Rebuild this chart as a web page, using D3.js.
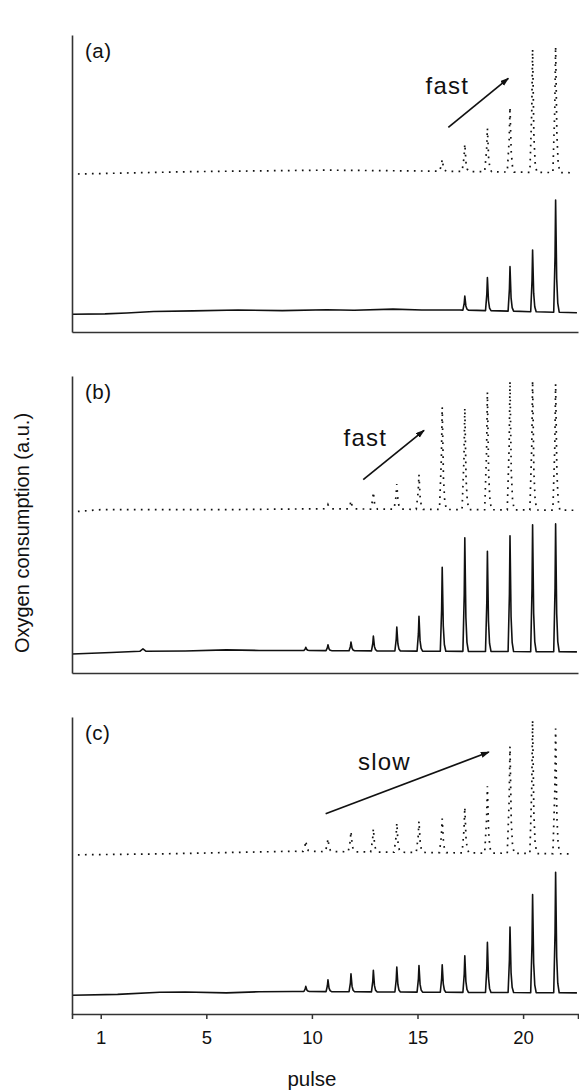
<!DOCTYPE html>
<html>
<head>
<meta charset="utf-8">
<script src="https://cdnjs.cloudflare.com/ajax/libs/d3/7.8.5/d3.min.js"></script>
<style>
  body { margin: 0; background: #fff; }
  svg { display: block; font-family: "Liberation Sans", Arial, sans-serif; }
</style>
</head>
<body>
<svg id="chart" width="579" height="1090"></svg>
<script>
// x in pulse units; the first tick sits at 0 but reads "1"
const xDomain = [-1.36, 22.6];
const xTickValues = [0, 5, 10, 15, 20];
const xTickLabels = ["1", "5", "10", "15", "20"];
const pulseT = [9.71, 10.76, 11.85, 12.91, 14.02, 15.07, 16.17, 17.24, 18.31, 19.38, 20.45, 21.54];

// peak tops (a.u., 0-100 per panel), null = no peak at that pulse
const aSolidPeaks = [null, null, null, null, null, null, null, 12.1, 18.3, 22.0, 27.6, 44.4];
const aDotPeaks   = [null, null, null, null, null, null, 58.1, 63.3, 68.6, 75.7, 95.2, 96.1];
const bSolidPeaks = [8.65, 9.5, 10.4, 12.4, 15.5, 19.1, 35.6, 45.5, 41.0, 46.2, 49.9, 50.2];
const bDotPeaks   = [null, 56.7, 58.0, 60.9, 63.6, 66.8, 89.5, 89.2, 94.6, 98.2, 98.4, 97.3];
const cSolidPeaks = [9.3, 11.5, 13.5, 14.7, 15.8, 16.3, 16.6, 19.6, 24.1, 29.3, 40.2, 47.7];
const cDotPeaks   = [58.3, 59.0, 61.5, 62.4, 64.3, 64.9, 65.8, 69.6, 76.7, 90.1, 98.9, 96.1];

// baselines [t, value]
const aSolidBase = [[-1.36, 6.0], [0.2, 6.1], [1.23, 6.4], [2.5, 6.9], [4.37, 7.1], [6.5, 7.4], [8.6, 7.2], [10.7, 7.5], [12.0, 7.3], [13.84, 7.7], [15.2, 7.4], [17.0, 7.4], [22.55, 6.5]];
const aDotBase   = [[-1.08, 53.2], [4.37, 54.0], [10.7, 54.5], [15.4, 54.2], [22.4, 53.6]];
const bSolidBase = [[-1.36, 6.4], [0.5, 6.9], [1.85, 7.3], [2.0, 8.1], [2.15, 7.3], [4.0, 7.4], [5.95, 7.8], [7.5, 7.6], [9.1, 7.6], [22.55, 7.1]];
const bDotBase   = [[-1.08, 54.4], [0, 55.0], [5.95, 55.0], [10.5, 55.3], [22.4, 54.8]];
const cSolidBase = [[-1.36, 6.3], [0.8, 6.6], [2.8, 7.3], [4.0, 7.4], [5.95, 7.1], [7.5, 7.5], [9.1, 7.6], [22.55, 7.1]];
const cDotBase   = [[-1.08, 53.6], [2.8, 53.9], [9.1, 54.8], [22.4, 53.9]];

const panelLabels = ["(a)", "(b)", "(c)"];
const noteTexts = ["fast", "fast", "slow"];
const notePos = [[15.38, 80.1], [11.50, 76.4], [12.18, 82.3]];
const arrows = [[[16.46, 68.9], [19.30, 85.4]], [[12.43, 65.1], [15.31, 81.7]], [[10.65, 67.4], [18.38, 88.2]]];

const panels = [
  {solid: aSolidPeaks, dot: aDotPeaks, sBase: aSolidBase, dBase: aDotBase},
  {solid: bSolidPeaks, dot: bDotPeaks, sBase: bSolidBase, dBase: bDotBase},
  {solid: cSolidPeaks, dot: cDotPeaks, sBase: cSolidBase, dBase: cDotBase}
];

const svg = d3.select('#chart');
const left = 72, right = 578, panelH = 297;
const tops = [35, 376, 717];

const x = d3.scaleLinear().domain(xDomain).range([left, right]);

svg.append('defs').append('marker')
  .attr('id', 'arrowHead')
  .attr('markerUnits', 'userSpaceOnUse')
  .attr('markerWidth', 9).attr('markerHeight', 7)
  .attr('refX', 8).attr('refY', 3)
  .attr('orient', 'auto')
  .append('path').attr('d', 'M0,0 L9,3 L0,6 z').attr('fill', '#111');

function tracePoints(base, peaks, wl, wr) {
  let baseAt = d3.scaleLinear().domain(base.map(d => d[0])).range(base.map(d => d[1]));
  let pts = base.slice();
  peaks.forEach((v, i) => {
    if (v == null) return;
    let t = pulseT[i], b = baseAt(t);
    pts.push([t - wl, b], [t - wl * 0.3, b + (v - b) * 0.5], [t, v], [t + wr * 0.3, b + (v - b) * 0.3], [t + wr * 0.6, b + (v - b) * 0.08], [t + wr, b]);
  });
  return pts.sort((p, q) => p[0] - q[0]);
}

panels.forEach((p, i) => {
  let top = tops[i];
  let y = d3.scaleLinear().domain([0, 100]).range([top + panelH, top]);
  let g = svg.append('g');
  let line = d3.line().x(d => x(d[0])).y(d => y(d[1]));

  g.append('path')
    .attr('d', line(tracePoints(p.dBase, p.dot, 0.13, 0.2)))
    .attr('fill', 'none').attr('stroke', '#111')
    .attr('stroke-width', 1.7).attr('stroke-dasharray', '1.7 5.3');

  g.append('path')
    .attr('d', line(tracePoints(p.sBase, p.solid, 0.09, 0.17)))
    .attr('fill', 'none').attr('stroke', '#111')
    .attr('stroke-width', 1.6).attr('stroke-linejoin', 'round');

  // spines
  g.append('g').attr('transform', `translate(${left},0)`)
    .call(d3.axisLeft(y).ticks(0).tickSize(0).tickSizeOuter(0))
    .call(s => s.select('.domain').attr('stroke', '#333').attr('stroke-width', 1.6));

  let xAxis = d3.axisBottom(x).tickSizeOuter(0);
  if (i === 2) {
    xAxis.tickValues(xTickValues).tickFormat((d, k) => xTickLabels[k]).tickSize(5).tickPadding(12);
  } else {
    xAxis.tickValues([]).tickSize(0);
  }
  g.append('g').attr('transform', `translate(0,${top + panelH})`)
    .call(xAxis)
    .call(s => s.select('.domain').attr('stroke', '#333').attr('stroke-width', 1.6))
    .call(s => s.selectAll('.tick line').attr('stroke', '#333').attr('stroke-width', 1.5))
    .call(s => s.selectAll('.tick text').attr('font-size', 18.5).attr('fill', '#111')
      .attr('font-family', '"Liberation Sans", Arial, sans-serif'));

  g.append('text').attr('x', 85).attr('y', top + 23)
    .attr('font-size', 20.5).attr('letter-spacing', 0.5).attr('fill', '#111').text(panelLabels[i]);

  g.append('text').attr('x', x(notePos[i][0])).attr('y', y(notePos[i][1]))
    .attr('font-size', 24).attr('letter-spacing', 1.2).attr('fill', '#111').text(noteTexts[i]);

  let a = arrows[i];
  g.append('line')
    .attr('x1', x(a[0][0])).attr('y1', y(a[0][1]))
    .attr('x2', x(a[1][0])).attr('y2', y(a[1][1]))
    .attr('stroke', '#111').attr('stroke-width', 1.7)
    .attr('marker-end', 'url(#arrowHead)');
});

svg.append('text').attr('x', x(10)).attr('y', 1086)
  .attr('text-anchor', 'middle').attr('font-size', 20.5).attr('fill', '#111').text('pulse');

svg.append('text').attr('transform', 'translate(28.5,533) rotate(-90)')
  .attr('text-anchor', 'middle').attr('font-size', 20).attr('fill', '#111')
  .text('Oxygen consumption (a.u.)');
</script>
</body>
</html>
